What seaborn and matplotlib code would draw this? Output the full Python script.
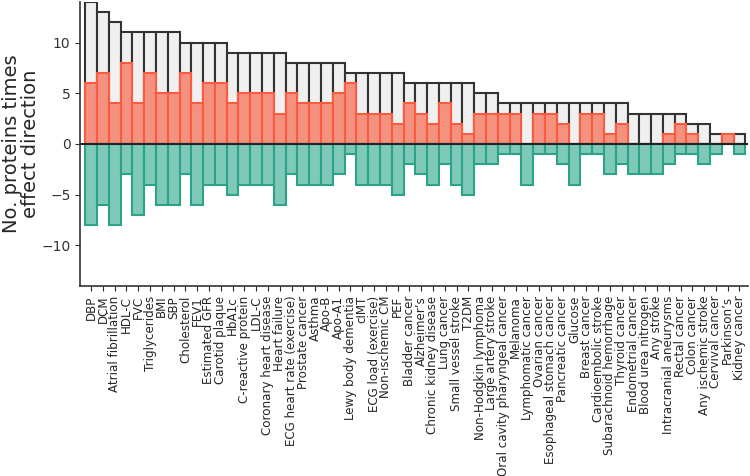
import matplotlib
matplotlib.use("Agg")
import matplotlib.pyplot as plt
import seaborn as sns

# traits, ordered by number of proteins
traits = ["DBP", "DCM", "Atrial fibrillation", "HDL-C", "FVC", "Triglycerides", "BMI", "SBP",
          "Cholesterol", "FEV1", "Estimated GFR", "Carotid plaque", "HbA1c", "C-reactive protein",
          "LDL-C", "Coronary heart disease", "Heart failure", "ECG heart rate (exercise)",
          "Prostate cancer", "Asthma", "Apo-B", "Apo-A1", "Lewy body dementia", "cIMT",
          "ECG load (exercise)", "Non-ischemic CM", "PEF", "Bladder cancer", "Alzheimer\u2019s",
          "Chronic kidney disease", "Lung cancer", "Small vessel stroke", "T2DM",
          "Non-Hodgkin lymphoma", "Large artery stroke", "Oral cavity pharyngeal cancer",
          "Melanoma", "Lymphomatic cancer", "Ovarian cancer", "Esophageal stomach cancer",
          "Pancreatic cancer", "Glucose", "Breast cancer", "Cardioembolic stroke",
          "Subarachnoid hemorrhage", "Thyroid cancer", "Endometrial cancer", "Blood urea nitrogen",
          "Any stroke", "Intracranial aneurysms", "Rectal cancer", "Colon cancer",
          "Any ischemic stroke", "Cervival cancer", "Parkinson\u2019s", "Kidney cancer"]

n_positive = [6, 7, 4, 8, 4, 7, 5, 5, 7, 4, 6, 6, 4, 5, 5, 5, 3, 5, 4, 4, 4, 5, 6, 3, 3, 3, 2, 4,
              3, 2, 4, 2, 1, 3, 3, 3, 3, 0, 3, 3, 2, 0, 3, 3, 1, 2, 0, 0, 0, 1, 2, 1, 0, 0, 1, 0]
n_negative = [-8, -6, -8, -3, -7, -4, -6, -6, -3, -6, -4, -4, -5, -4, -4, -4, -6, -3, -4, -4, -4,
              -3, -1, -4, -4, -4, -5, -2, -3, -4, -2, -4, -5, -2, -2, -1, -1, -4, -1, -1, -2, -4,
              -1, -1, -3, -2, -3, -3, -3, -2, -1, -1, -2, -1, 0, -1]
n_total = [p - n for p, n in zip(n_positive, n_negative)]

sns.set_style("ticks")
fig, ax = plt.subplots(figsize=(7.5, 4.76), dpi=100)

# total number of proteins behind, then up / down split on top
sns.barplot(x=traits, y=n_total, color="#f0f0f0", edgecolor="#333333", linewidth=1.5,
            width=1, saturation=1, ax=ax)
sns.barplot(x=traits, y=n_positive, color="#f5917f", edgecolor="#fb5b3f", linewidth=1.5,
            width=1, saturation=1, ax=ax)
sns.barplot(x=traits, y=n_negative, color="#7fc9b9", edgecolor="#2aa389", linewidth=1.5,
            width=1, saturation=1, ax=ax)

ax.axhline(0, color="#222222", linewidth=1.5)
ax.set_ylim(-14, 14)
ax.set_xlim(-0.92, 55.7)
ax.set_yticks([-10, -5, 0, 5, 10])
ax.tick_params(axis="y", labelsize=10, colors="#333333", labelcolor="#333333")
ax.tick_params(axis="x", labelsize=8.6, rotation=90)
ax.set_ylabel("No. proteins times\neffect direction", fontsize=14, labelpad=1, linespacing=1.0)
for s in ["left", "bottom"]:
    ax.spines[s].set_linewidth(1.2)
    ax.spines[s].set_color("#333333")
sns.despine(ax=ax)

fig.subplots_adjust(left=0.107, right=0.997, top=0.996, bottom=0.399)
fig.savefig("out.png", dpi=100)
